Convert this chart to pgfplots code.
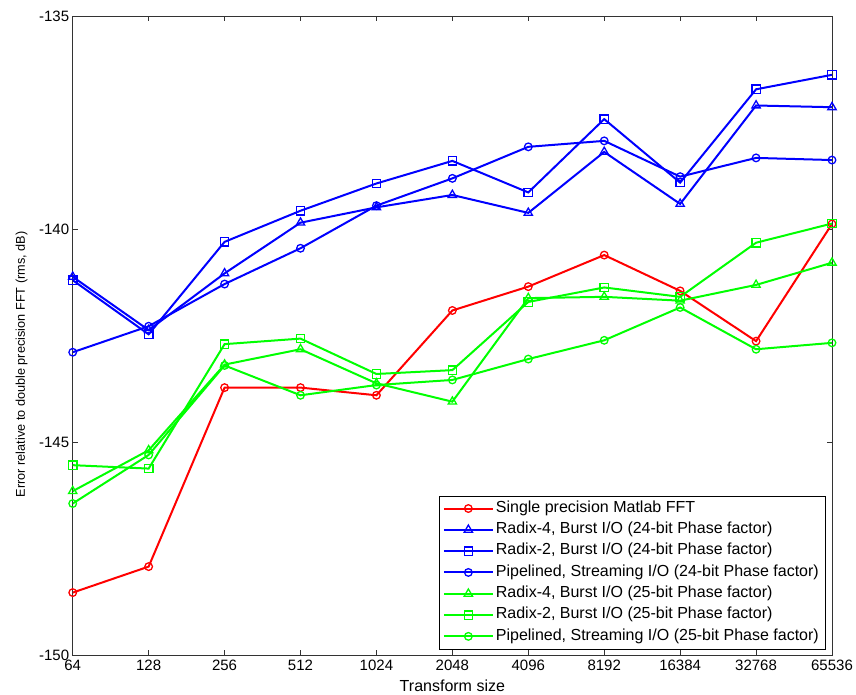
\documentclass[border=0pt]{standalone}
\usepackage{fontspec}
\setmainfont{Liberation Sans}
\usepackage{pgfplots}
\pgfplotsset{compat=1.18}
\begin{document}
\begin{tikzpicture}
\begin{axis}[
  name=ax,
  scale only axis,
  width=759pt, height=639pt,
  xmin=0, xmax=10, ymin=-150, ymax=-135,
  xtick={0,1,2,3,4,5,6,7,8,9,10},
  xticklabels={64,128,256,512,1024,2048,4096,8192,16384,32768,65536},
  ytick={-150,-145,-140,-135},
  yticklabels={-150,-145,-140,-135},
  tick align=inside,
  xtick pos=both, ytick pos=both,
  xticklabel pos=left, yticklabel pos=left,
  major tick length=5pt,
  axis line style={black!80, line width=0.8pt},
  tick style={black!80, line width=0.8pt},
  font=\fontsize{15}{18}\selectfont,
  ticklabel style={font=\fontsize{15}{18}\selectfont},
  xticklabel style={yshift=-1.5pt},
  xlabel={Transform size},
  ylabel={Error relative to double precision FFT (rms, dB)},
  xlabel style={font=\fontsize{16}{19}\selectfont, at={(axis description cs:0.5,-0.0485)},anchor=center},
  ylabel style={font=\fontsize{12.7}{15}\selectfont, at={(axis description cs:-0.0675,0.455)},anchor=center},
  legend style={at={(axis description cs:0.9908,0.0094)}, anchor=south east,
    draw=black, font=\fontsize{16}{19}\selectfont,
    cells={anchor=west}, row sep=0pt, inner xsep=4pt, inner ysep=2pt,
    nodes={text height=11pt, text depth=3.5pt, inner ysep=3.4pt, inner xsep=2pt}},
  legend image code/.code={\draw[line width=2pt, mark repeat=2,mark phase=2, mark options={solid, line width=1.3pt, fill=none}] plot coordinates {(0pt,0pt) (24.5pt,0pt) (49pt,0pt)};},
  every axis plot/.append style={line width=2pt, mark options={solid, line width=1.3pt, fill=none}},
]
\addplot[red, mark=o, mark size=3.8pt] coordinates {
(0,-148.53) (1,-147.92) (2,-143.72) (3,-143.72) (4,-143.90) (5,-141.91) (6,-141.35) (7,-140.61) (8,-141.45) (9,-142.63) (10,-139.88)};
\addlegendentry{Single precision Matlab FFT}
\addplot[blue, mark=triangle, mark size=4.8pt] coordinates {
(0,-141.12) (1,-142.37) (2,-141.04) (3,-139.85) (4,-139.49) (5,-139.20) (6,-139.62) (7,-138.19) (8,-139.41) (9,-137.10) (10,-137.14)};
\addlegendentry{Radix-4, Burst I/O (24-bit Phase factor)}
\addplot[blue, mark=square, mark size=4.2pt] coordinates {
(0,-141.20) (1,-142.47) (2,-140.30) (3,-139.57) (4,-138.93) (5,-138.40) (6,-139.14) (7,-137.42) (8,-138.91) (9,-136.72) (10,-136.38)};
\addlegendentry{Radix-2, Burst I/O (24-bit Phase factor)}
\addplot[blue, mark=o, mark size=3.8pt] coordinates {
(0,-142.89) (1,-142.28) (2,-141.29) (3,-140.45) (4,-139.45) (5,-138.81) (6,-138.07) (7,-137.93) (8,-138.77) (9,-138.33) (10,-138.38)};
\addlegendentry{Pipelined, Streaming I/O (24-bit Phase factor)}
\addplot[green, mark=triangle, mark size=4.8pt] coordinates {
(0,-146.15) (1,-145.19) (2,-143.18) (3,-142.82) (4,-143.62) (5,-144.05) (6,-141.62) (7,-141.59) (8,-141.68) (9,-141.31) (10,-140.79)};
\addlegendentry{Radix-4, Burst I/O (25-bit Phase factor)}
\addplot[green, mark=square, mark size=4.2pt] coordinates {
(0,-145.54) (1,-145.62) (2,-142.70) (3,-142.57) (4,-143.40) (5,-143.31) (6,-141.71) (7,-141.37) (8,-141.59) (9,-140.32) (10,-139.87)};
\addlegendentry{Radix-2, Burst I/O (25-bit Phase factor)}
\addplot[green, mark=o, mark size=3.8pt] coordinates {
(0,-146.44) (1,-145.30) (2,-143.20) (3,-143.90) (4,-143.66) (5,-143.54) (6,-143.05) (7,-142.61) (8,-141.84) (9,-142.82) (10,-142.67)};
\addlegendentry{Pipelined, Streaming I/O (25-bit Phase factor)}
\end{axis}
\pgfresetboundingbox
\path[use as bounding box] ([shift={(-72.7pt,-39pt)}]ax.south west) rectangle ([shift={(24pt,16pt)}]ax.north east);
\end{tikzpicture}
\end{document}
